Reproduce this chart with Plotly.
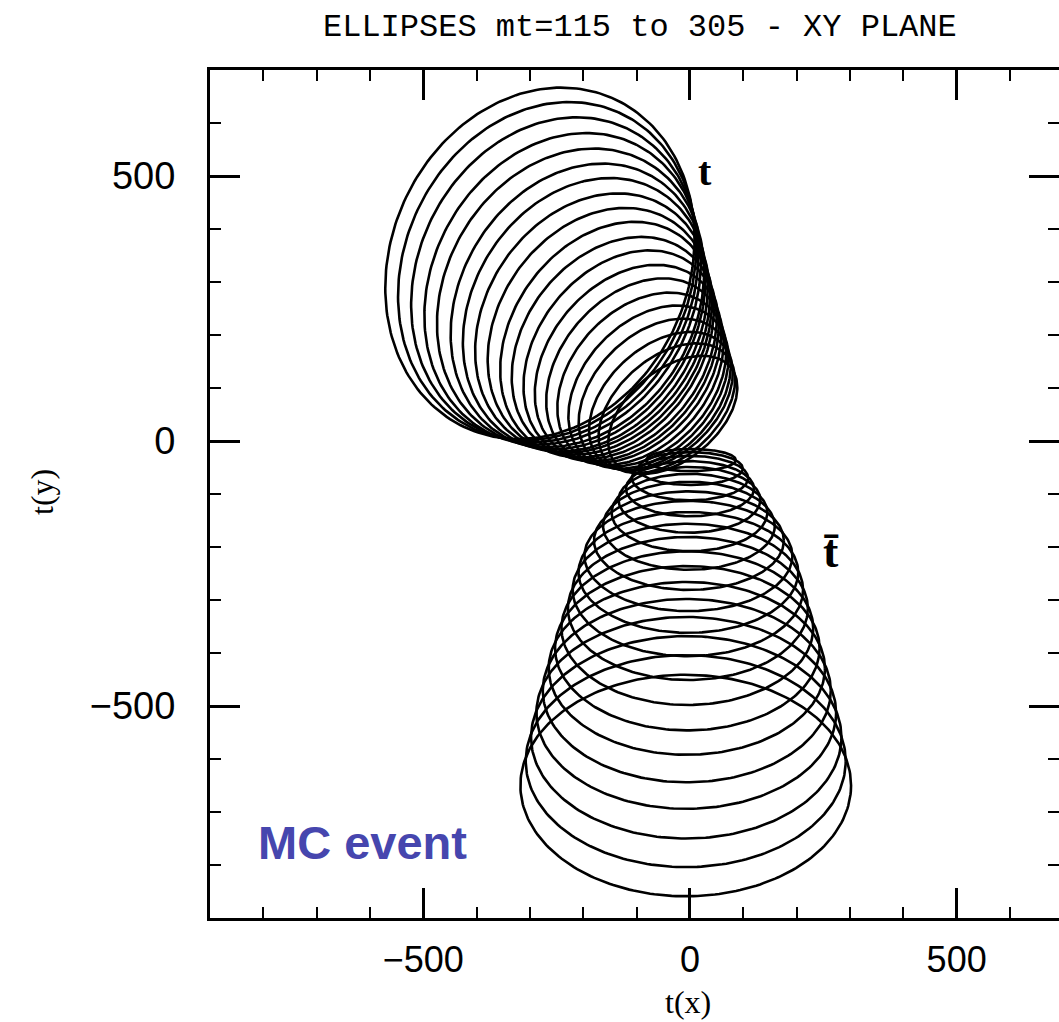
import numpy as np
import plotly.graph_objects as go

# ---- data: ellipse parameters (data units) ----
# top-quark ellipses (labelled "t"), mt = 115 ... 305 GeV
mt_values = [115, 125, 135, 145, 155, 165, 175, 185, 195, 205,
             215, 225, 235, 245, 255, 265, 275, 285, 295, 305]

t_cx = [-32.3, -43.4, -54.5, -66.2, -77.9, -90.3, -103.2, -116.2, -129.1, -142.1,
        -155.6, -169.2, -182.7, -196.3, -209.9, -224.0, -238.8, -253.6, -267.8, -281.4]
t_cy = [49.2, 62.0, 74.8, 88.3, 101.8, 116.0, 130.9, 145.9, 160.8, 175.7,
        191.3, 207.0, 222.6, 238.2, 253.9, 270.2, 287.2, 304.3, 320.6, 335.3]
t_a = [141, 150, 158, 167, 177, 186, 197, 207, 218, 227,
       239, 248, 259, 271, 282, 293, 305, 316, 328, 340]
t_b = [85, 94, 102, 113, 122, 132, 141, 150, 160, 171,
       180, 192, 203, 214, 224, 237, 246, 258, 269, 280]
t_ang = [40, 42, 43, 45, 47, 48, 50, 51, 53, 54,
         56, 57, 58, 60, 61, 62, 63, 65, 66, 67]

# anti-top ellipses (labelled "t-bar")
tb_cx = [2, 1, 0, 0, -1, -1, -2, -2, -3, -3, -4, -4, -5, -5, -6, -6, -7, -7, -8, -8]
tb_cy = [-36, -52, -70, -90, -111, -135, -160, -188, -217, -248,
         -281, -316, -353, -391, -429, -471, -513, -559, -604, -650]
tb_a = [84, 98, 109, 120, 133, 146, 161, 178, 195, 206,
        216, 225, 236, 248, 259, 270, 281, 291, 300, 310]
tb_b = [21, 31, 42, 52, 62, 73, 83, 93, 104, 114,
        125, 135, 145, 155, 163, 173, 181, 191, 200, 209]
tb_ang = [0] * 20

x_ticks = [-500, 0, 500]
y_ticks = [-500, 0, 500]
tick_text = ["\u2212500", "0", "500"]


def ellipse_set(cx, cy, a, b, ang):
    t = np.linspace(0, 2 * np.pi, 240)
    xs, ys = [], []
    for x0, y0, aa, bb, th in zip(cx, cy, a, b, ang):
        r = np.deg2rad(th)
        x = x0 + aa * np.cos(t) * np.cos(r) - bb * np.sin(t) * np.sin(r)
        y = y0 + aa * np.cos(t) * np.sin(r) + bb * np.sin(t) * np.cos(r)
        xs += list(x) + [None]
        ys += list(y) + [None]
    return xs, ys


fig = go.Figure()
for cx, cy, a, b, ang, nm in [(t_cx, t_cy, t_a, t_b, t_ang, "t"),
                              (tb_cx, tb_cy, tb_a, tb_b, tb_ang, "tbar")]:
    xs, ys = ellipse_set(cx, cy, a, b, ang)
    fig.add_trace(go.Scatter(x=xs, y=ys, mode="lines", name=nm,
                             line=dict(color="black", width=2.6),
                             showlegend=False, hoverinfo="skip"))

# invisible trace so the right-hand mirror axis is drawn
fig.add_trace(go.Scatter(x=[None], y=[None], yaxis="y2", showlegend=False))

W, H = 1059, 1022
L, R, T, B = 210, 0, 70, 104
XR = [-900, 691.9]
YR = [-900, 700]

minor_style = dict(ticks="inside", ticklen=11, tickwidth=2.2,
                   tickcolor="black", dtick=100, tick0=0, showgrid=False)
axis_common = dict(showline=True, linewidth=3, linecolor="black",
                   ticks="inside", ticklen=30, tickwidth=2.5, tickcolor="black",
                   showgrid=False, zeroline=False, tickmode="array",
                   minor=minor_style)

fig.update_layout(
    width=W, height=H,
    margin=dict(l=L, r=R, t=T, b=B, pad=0),
    paper_bgcolor="white", plot_bgcolor="white",
    xaxis=dict(range=XR, tickvals=x_ticks, ticktext=tick_text,
               mirror="ticks",
               tickfont=dict(family="Liberation Sans", size=36, color="black"),
               ticklabelstandoff=8, **axis_common),
    yaxis=dict(range=YR, tickvals=y_ticks, ticktext=tick_text,
               tickfont=dict(family="Liberation Sans", size=38, color="black"),
               ticklabelstandoff=24, **axis_common),
    yaxis2=dict(range=YR, overlaying="y", side="right", showline=False,
                ticks="inside", ticklen=30, tickwidth=2.5, tickcolor="black",
                tickmode="array", tickvals=y_ticks, showticklabels=False,
                showgrid=False, zeroline=False, minor=minor_style),
    showlegend=False,
)

pw, ph = W - L - R, H - T - B


def px_to_paper(px, py):
    return (px - L) / pw, (H - B - py) / ph


annots = []
xp, yp = px_to_paper(640, 27)
annots.append(dict(x=xp, y=yp, xref="paper", yref="paper",
                   text="ELLIPSES mt=115 to 305 - XY PLANE", showarrow=False,
                   font=dict(family="Liberation Mono", size=32, color="black"),
                   xanchor="center", yanchor="middle"))
xp, yp = px_to_paper(688, 1002)
annots.append(dict(x=xp, y=yp, xref="paper", yref="paper", text="t(x)",
                   showarrow=False,
                   font=dict(family="Liberation Serif", size=32, color="black"),
                   xanchor="center", yanchor="middle"))
xp, yp = px_to_paper(42, 492)
annots.append(dict(x=xp, y=yp, xref="paper", yref="paper", text="t(y)",
                   showarrow=False, textangle=-90,
                   font=dict(family="Liberation Serif", size=32, color="black"),
                   xanchor="center", yanchor="middle"))
annots.append(dict(x=28, y=508, xref="x", yref="y", text="<b>t</b>",
                   showarrow=False,
                   font=dict(family="Liberation Serif", size=40, color="black")))
annots.append(dict(x=265, y=-208, xref="x", yref="y", text="<b>t\u0304</b>",
                   showarrow=False,
                   font=dict(family="Liberation Serif", size=46, color="black")))
annots.append(dict(x=-615, y=-758, xref="x", yref="y", text="<b>MC event</b>",
                   showarrow=False,
                   font=dict(family="Liberation Sans", size=47, color="#4646AE")))
fig.update_layout(annotations=annots)

fig.write_html("out.html")
